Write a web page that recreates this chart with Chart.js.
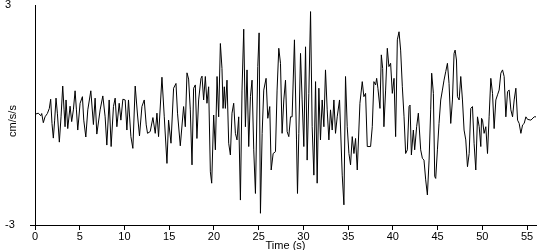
<!DOCTYPE html>
<html>
<head>
<meta charset="utf-8">
<script src="https://cdn.jsdelivr.net/npm/chart.js@4/dist/chart.umd.min.js"></script>
<style>
  html, body { margin: 0; padding: 0; background: #fff; }
  #wrap { width: 550px; height: 250px; }
</style>
</head>
<body>
<div id="wrap"><canvas id="accChart"></canvas></div>
<script>
// Time (s) and acceleration (cm/s/s)
const time = [
  0, 0.37, 0.64, 0.75, 0.93, 1.12, 1.38, 1.6, 1.75, 1.9,
  2.05, 2.2, 2.35, 2.5, 2.72, 2.91, 3.1, 3.25, 3.36, 3.47,
  3.66, 3.92, 4.1, 4.29, 4.48, 4.63, 4.78, 5.04, 5.3, 5.45,
  5.68, 5.9, 6.24, 6.53, 6.72, 6.91, 7.28, 7.58, 7.84, 8.03,
  8.29, 8.51, 8.77, 8.96, 9.15, 9.41, 9.6, 9.82, 10.08, 10.27,
  10.45, 10.72, 10.94, 11.2, 11.46, 11.68, 11.95, 12.21, 12.43, 12.58,
  12.88, 13.18, 13.44, 13.63, 13.81, 14.19, 14.45, 14.75, 14.93, 15.2,
  15.49, 15.76, 15.93, 16.24, 16.61, 16.8, 16.99, 17.17, 17.36, 17.55,
  17.73, 17.92, 18.1, 18.29, 18.55, 18.67, 18.85, 19.04, 19.22, 19.41,
  19.6, 19.75, 19.97, 20.16, 20.35, 20.53, 20.72, 20.9, 21.02, 21.16,
  21.28, 21.46, 21.65, 21.84, 22.02, 22.21, 22.4, 22.58, 22.77, 22.96,
  23.14, 23.33, 23.52, 23.7, 23.89, 24.08, 24.26, 24.45, 24.64, 24.9,
  25.05, 25.2, 25.39, 25.57, 25.83, 26.02, 26.24, 26.4, 26.62, 26.88,
  27.06, 27.25, 27.44, 27.62, 27.81, 28.0, 28.18, 28.37, 28.56, 28.74,
  29.0, 29.23, 29.34, 29.49, 29.68, 29.86, 30.05, 30.24, 30.42, 30.61,
  30.8, 30.98, 31.17, 31.36, 31.54, 31.73, 31.91, 32.1, 32.29, 32.47,
  32.66, 32.85, 33.03, 33.22, 33.41, 33.59, 33.78, 34.04, 34.34, 34.53,
  34.71, 34.9, 35.09, 35.27, 35.46, 35.65, 35.83, 36.02, 36.32, 36.58,
  36.76, 36.95, 37.14, 37.51, 37.7, 37.88, 38.07, 38.19, 38.33, 38.56,
  38.71, 38.86, 39.0, 39.19, 39.38, 39.56, 39.75, 39.94, 40.13, 40.31,
  40.5, 40.69, 40.87, 41.06, 41.25, 41.43, 41.62, 41.81, 41.92, 42.07,
  42.29, 42.44, 42.66, 42.85, 43.11, 43.3, 43.48, 43.67, 43.86, 44.05,
  44.23, 44.34, 44.53, 44.68, 44.79, 44.98, 45.16, 45.35, 45.54, 45.72,
  45.91, 46.1, 46.28, 46.47, 46.66, 46.84, 46.96, 47.11, 47.22, 47.41,
  47.59, 47.78, 47.96, 48.15, 48.34, 48.53, 48.71, 48.9, 49.08, 49.27,
  49.46, 49.65, 49.83, 49.91, 50.02, 50.2, 50.39, 50.58, 50.76, 50.95,
  51.14, 51.32, 51.51, 51.7, 51.88, 52.07, 52.26, 52.44, 52.63, 52.82,
  53.0, 53.19, 53.38, 53.56, 53.75, 53.94, 54.12, 54.31, 54.5, 54.68,
  54.87, 55.06, 55.43, 55.8, 56.07
];
const accel = [
  0.02, 0.05, -0.02, 0.04, -0.21, -0.05, 0.04, 0.18, 0.43, -0.23,
  -0.63, -0.14, 0.46, 0.05, -0.74, -0.05, 0.79, 0.14, -0.32, 0.41,
  -0.37, 0.24, -0.18, 0.14, 0.66, 0.14, -0.41, 0.32, 0.5, -0.14,
  -0.6, 0.14, 0.66, -0.26, 0.46, -0.52, 0.14, 0.52, -0.05, -0.82,
  0.41, -0.86, 0.23, 0.46, -0.32, 0.32, -0.14, 0.43, 0.41, -0.41,
  0.41, -0.59, -0.91, 0.79, 0.0, -0.57, 0.23, 0.41, -0.27, -0.5,
  -0.45, -0.07, -0.5, 0.05, -0.59, 1.03, -0.05, -1.32, -0.14, -0.77,
  0.73, 0.86, 0.05, -0.84, 0.23, -0.32, 1.15, 0.98, 0.14, -1.36,
  0.73, 0.82, -0.64, 0.41, 1.0, 1.06, 0.41, 1.05, 0.32, 0.77,
  -1.55, -1.86, 0.0, -0.95, 1.05, -0.05, 1.95, 1.27, 0.18, 0.77,
  0.18, 0.95, -0.77, -1.09, 0.05, 0.32, -0.5, -0.68, -0.05, -2.32,
  0.68, 2.34, -0.32, 1.23, -0.86, 0.5, 0.95, -0.95, -2.14, 1.32,
  2.24, -2.68, -0.5, 0.68, 1.0, -0.09, 0.23, -1.5, -1.05, -1.0,
  0.68, 1.82, 1.41, -0.5, 0.41, 0.95, -0.45, -0.59, -0.05, -0.05,
  2.05, -0.68, -2.14, -0.5, 1.68, 0.41, -0.86, 1.86, -1.23, 0.59,
  2.82, -0.32, -1.64, 0.91, -1.86, 0.73, -0.68, 0.41, -0.32, 1.23,
  0.14, -0.68, 0.14, -0.41, 0.41, -0.5, -0.05, 0.41, -1.64, -2.45,
  1.05, -0.32, -1.05, -1.36, -0.59, -1.05, -0.64, -1.5, 0.32, 0.91,
  0.5, 0.59, -0.86, -0.86, -0.32, 0.91, 0.82, 1.0, 0.73, 0.18,
  1.64, 1.27, -0.32, 0.68, 1.82, 1.32, 1.41, 0.59, 1.0, -0.59,
  2.05, 2.27, 1.77, 0.77, -0.05, -1.05, -0.95, 0.23, 0.27, -1.09,
  -0.41, -0.95, -0.32, 0.05, -0.95, -1.18, -1.23, -1.77, -2.18, -1.23,
  0.14, 1.14, 0.59, -1.68, -1.73, -0.95, -0.23, 0.41, 0.68, 0.95,
  1.18, 1.41, 0.86, -0.23, 0.41, 1.68, 1.77, 1.5, 0.5, 0.41,
  1.05, 0.41, -0.41, -0.68, -1.41, -1.05, 0.18, 0.23, -0.77, -1.5,
  -0.05, -0.32, -0.86, -0.09, -0.14, -0.5, -0.32, -1.05, -0.05, 1.0,
  0.59, -0.37, 0.41, 0.55, 0.68, 1.14, 1.23, 1.05, -0.05, 0.64,
  0.68, 0.14, -0.05, 0.41, 0.73, -0.14, -0.23, -0.5, -0.27, -0.23,
  -0.05, -0.12, -0.14, -0.05, -0.05
];
const yTicks = [-3, 3];
const xStep = 5;

const points = time.map((t, i) => ({ x: t, y: accel[i] }));

// y axis title sits in the same column as the tick labels, so draw it by hand
const yTitle = {
  id: 'yTitle',
  afterDraw(chart) {
    const ctx = chart.ctx;
    ctx.save();
    ctx.translate(12.5, 121);
    ctx.rotate(-Math.PI / 2);
    ctx.font = '11px "Liberation Sans", Arial, sans-serif';
    ctx.fillStyle = '#000';
    ctx.textAlign = 'center';
    ctx.textBaseline = 'middle';
    ctx.fillText('cm/s/s', 0, 0);
    ctx.restore();
  }
};

const font = { family: '"Liberation Sans", Arial, sans-serif', size: 11 };

new Chart(document.getElementById('accChart').getContext('2d'), {
  type: 'scatter',
  data: {
    datasets: [{
      data: points,
      showLine: true,
      borderColor: '#000',
      borderWidth: 1,
      pointRadius: 0,
      tension: 0
    }]
  },
  options: {
    responsive: true,
    maintainAspectRatio: false,
    animation: false,
    layout: { padding: { left: 5, top: 5, right: 14, bottom: 0 } },
    plugins: {
      legend: { display: false },
      tooltip: { enabled: false }
    },
    scales: {
      x: {
        type: 'linear',
        min: 0,
        max: 56,
        border: { display: true, color: '#000', width: 1 },
        grid: { drawOnChartArea: false, drawTicks: true, tickLength: 5, color: '#000' },
        ticks: { stepSize: xStep, includeBounds: false, color: '#000', font: font, padding: 0, maxRotation: 0 },
        title: { display: true, text: 'Time (s)', color: '#000', font: font, padding: { top: 0, bottom: -3 } },
        afterFit(scale) { scale.height = 25; scale.paddingLeft = 0; scale.paddingRight = 0; }
      },
      y: {
        min: -3,
        max: 3,
        afterBuildTicks(scale) { scale.ticks = yTicks.map(v => ({ value: v })); },
        border: { display: true, color: '#000', width: 1 },
        grid: {
          drawOnChartArea: false,
          drawTicks: true,
          tickLength: 5,
          color: c => (c.tick && c.tick.value === -3 ? '#000' : 'rgba(0,0,0,0)')
        },
        ticks: { color: '#000', font: font, crossAlign: 'far', padding: 0 },
        afterFit(scale) { scale.width = 30; scale.paddingTop = 0; scale.paddingBottom = 0; }
      }
    }
  },
  plugins: [yTitle]
});
</script>
</body>
</html>
